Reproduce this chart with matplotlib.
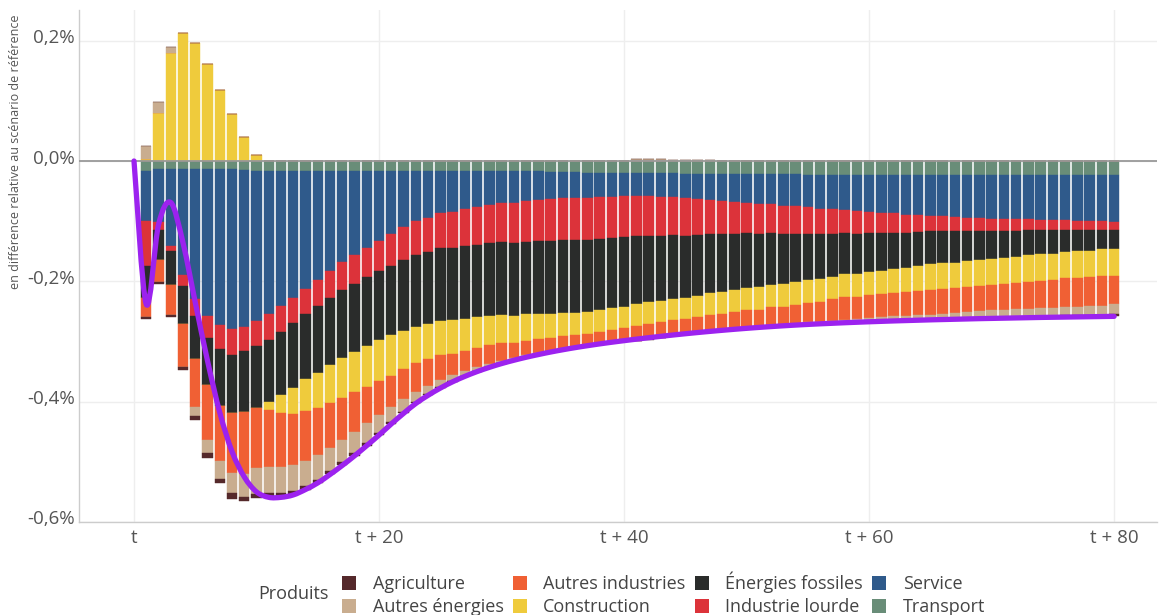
import matplotlib.pyplot as plt
import matplotlib.transforms as mtransforms
from matplotlib.patches import Patch, PathPatch
from matplotlib.path import Path
import numpy as np

plt.rcParams['font.family'] = ['Open Sans', 'DejaVu Sans']

# data (in % difference from the reference scenario), periods t+1 .. t+80
periods = np.arange(1, 81)

transport = [
    -0.017, -0.014, -0.014, -0.014, -0.014, -0.014, -0.014, -0.014, -0.015, -0.017,
    -0.017, -0.017, -0.017, -0.017, -0.017, -0.017, -0.017, -0.017, -0.017, -0.017,
    -0.017, -0.017, -0.017, -0.017, -0.017, -0.017, -0.017, -0.017, -0.016, -0.016,
    -0.017, -0.017, -0.017, -0.018, -0.018, -0.019, -0.020, -0.020, -0.020, -0.020,
    -0.020, -0.020, -0.020, -0.020, -0.021, -0.021, -0.021, -0.022, -0.022, -0.022,
    -0.022, -0.022, -0.022, -0.022, -0.023, -0.023, -0.023, -0.023, -0.023, -0.023,
    -0.023, -0.023, -0.023, -0.023, -0.023, -0.023, -0.023, -0.023, -0.023, -0.023,
    -0.023, -0.023, -0.023, -0.023, -0.023, -0.023, -0.023, -0.023, -0.023, -0.023]

service = [
    -0.083, -0.088, -0.128, -0.175, -0.216, -0.244, -0.258, -0.266, -0.261, -0.249,
    -0.238, -0.224, -0.211, -0.195, -0.180, -0.165, -0.151, -0.140, -0.128, -0.116,
    -0.105, -0.093, -0.083, -0.077, -0.070, -0.068, -0.063, -0.060, -0.057, -0.054,
    -0.052, -0.049, -0.047, -0.045, -0.043, -0.042, -0.041, -0.040, -0.039, -0.038,
    -0.038, -0.038, -0.039, -0.040, -0.041, -0.042, -0.043, -0.044, -0.046, -0.047,
    -0.049, -0.050, -0.052, -0.053, -0.054, -0.056, -0.057, -0.058, -0.060, -0.061,
    -0.063, -0.064, -0.066, -0.067, -0.068, -0.069, -0.070, -0.071, -0.072, -0.073,
    -0.074, -0.074, -0.074, -0.075, -0.075, -0.075, -0.076, -0.076, -0.077, -0.078]

industrie_lourde = [
    -0.075, -0.012, -0.007, -0.019, -0.028, -0.036, -0.040, -0.042, -0.040, -0.042,
    -0.043, -0.043, -0.042, -0.043, -0.044, -0.046, -0.046, -0.047, -0.048, -0.049,
    -0.052, -0.055, -0.057, -0.057, -0.058, -0.059, -0.061, -0.062, -0.063, -0.065,
    -0.067, -0.068, -0.069, -0.070, -0.071, -0.071, -0.071, -0.070, -0.069, -0.069,
    -0.067, -0.066, -0.065, -0.063, -0.062, -0.060, -0.058, -0.056, -0.053, -0.051,
    -0.050, -0.048, -0.047, -0.046, -0.044, -0.043, -0.041, -0.039, -0.038, -0.036,
    -0.034, -0.032, -0.030, -0.028, -0.026, -0.025, -0.024, -0.023, -0.022, -0.021,
    -0.020, -0.019, -0.018, -0.017, -0.017, -0.016, -0.015, -0.015, -0.014, -0.014]

energies_fossiles = [
    -0.053, -0.050, -0.057, -0.063, -0.071, -0.078, -0.095, -0.096, -0.101, -0.103,
    -0.103, -0.105, -0.107, -0.108, -0.111, -0.111, -0.113, -0.113, -0.114, -0.115,
    -0.116, -0.118, -0.119, -0.120, -0.121, -0.121, -0.121, -0.121, -0.121, -0.121,
    -0.121, -0.121, -0.121, -0.121, -0.120, -0.120, -0.119, -0.118, -0.116, -0.115,
    -0.113, -0.111, -0.108, -0.106, -0.103, -0.101, -0.098, -0.096, -0.093, -0.091,
    -0.089, -0.086, -0.083, -0.080, -0.077, -0.074, -0.071, -0.068, -0.066, -0.064,
    -0.062, -0.061, -0.059, -0.057, -0.055, -0.053, -0.052, -0.050, -0.048, -0.046,
    -0.044, -0.043, -0.042, -0.040, -0.039, -0.037, -0.036, -0.035, -0.033, -0.032]

construction = [
    0.004, 0.079, 0.179, 0.212, 0.196, 0.161, 0.118, 0.078, 0.040, 0.010,
    -0.013, -0.030, -0.043, -0.053, -0.058, -0.063, -0.067, -0.067, -0.068, -0.068,
    -0.067, -0.063, -0.060, -0.058, -0.057, -0.055, -0.053, -0.051, -0.049, -0.047,
    -0.046, -0.044, -0.042, -0.041, -0.039, -0.038, -0.037, -0.037, -0.037, -0.036,
    -0.036, -0.036, -0.036, -0.036, -0.036, -0.036, -0.036, -0.036, -0.037, -0.037,
    -0.037, -0.037, -0.038, -0.038, -0.038, -0.038, -0.038, -0.038, -0.039, -0.039,
    -0.039, -0.040, -0.040, -0.041, -0.042, -0.042, -0.042, -0.043, -0.043, -0.043,
    -0.043, -0.044, -0.044, -0.044, -0.044, -0.044, -0.044, -0.044, -0.044, -0.044]

autres_industries = [
    -0.032, -0.037, -0.050, -0.071, -0.080, -0.091, -0.091, -0.100, -0.103, -0.100,
    -0.095, -0.090, -0.086, -0.082, -0.078, -0.075, -0.070, -0.067, -0.061, -0.0565,
    -0.052, -0.0495, -0.048, -0.0445, -0.0405, -0.036, -0.034, -0.031, -0.031, -0.0297,
    -0.0252, -0.0242, -0.0237, -0.0220, -0.0222, -0.0197, -0.0185, -0.0185, -0.0197, -0.0201,
    -0.0246, -0.0252, -0.0259, -0.0247, -0.0246, -0.0256, -0.0277, -0.0271, -0.0284, -0.0298,
    -0.0293, -0.0309, -0.0306, -0.0314, -0.0323, -0.0333, -0.0354, -0.0375, -0.0367, -0.0379,
    -0.0388, -0.0381, -0.0395, -0.0399, -0.0413, -0.0418, -0.0413, -0.0408, -0.0413, -0.0416,
    -0.0432, -0.0438, -0.0454, -0.0460, -0.0457, -0.0474, -0.0481, -0.0478, -0.0495, -0.0472]

autres_energies = [
    0.021, 0.019, 0.011, 0.0, -0.014, -0.022, -0.030, -0.033, -0.038, -0.042,
    -0.042, -0.042, -0.042, -0.042, -0.042, -0.039, -0.037, -0.034, -0.032, -0.030,
    -0.025, -0.021, -0.017, -0.014, -0.012, -0.010, -0.008, -0.007, -0.005, -0.003,
    -0.002, -0.002, -0.001, 0.0, 0.0, 0.0, 0.0, 0.0, 0.0, 0.0,
    0.003, 0.003, 0.003, 0.001, 0.001, 0.001, 0.001, 0.0, 0.0, 0.0,
    0.0, -0.001, -0.001, -0.002, -0.003, -0.003, -0.004, -0.005, -0.005, -0.006,
    -0.006, -0.007, -0.007, -0.008, -0.008, -0.009, -0.010, -0.011, -0.012, -0.013,
    -0.013, -0.013, -0.013, -0.014, -0.014, -0.014, -0.014, -0.015, -0.015, -0.016]

agriculture = [
    -0.003, -0.003, -0.003, -0.006, -0.008, -0.008, -0.008, -0.010, -0.007, -0.007,
    -0.008, -0.008, -0.007, -0.006, -0.005, -0.005, -0.005, -0.005, -0.005, -0.004,
    -0.003, -0.003, -0.002, -0.002, -0.002, -0.001, -0.001, -0.001, -0.001, -0.001,
    -0.001, -0.001, -0.001, -0.0005, -0.0005, -0.0005, -0.0005, -0.0005, -0.0005, -0.0005,
    -0.0005, -0.0005, -0.0005, -0.0005, -0.0005, -0.0005, -0.0005, -0.0003, -0.0003, -0.0003,
    -0.0003, -0.0003, -0.0003, -0.0003, -0.0003, -0.0003, -0.0003, -0.0003, -0.0003, -0.0003,
    -0.0007, -0.0007, -0.0007, -0.0007, -0.0007, -0.0007, -0.0007, -0.0007, -0.0007, -0.001,
    -0.001, -0.001, -0.001, -0.001, -0.002, -0.003, -0.003, -0.003, -0.003, -0.004]

# stacking order, from the zero line outwards
series = [
    ('Transport', transport, '#698d78'),
    ('Service', service, '#2f5a8b'),
    ('Industrie lourde', industrie_lourde, '#dc333a'),
    ('Énergies fossiles', energies_fossiles, '#2a2c2b'),
    ('Construction', construction, '#efcb3c'),
    ('Autres industries', autres_industries, '#f06034'),
    ('Autres énergies', autres_energies, '#c9ad8f'),
    ('Agriculture', agriculture, '#55292b'),
]
legend_order = ['Agriculture', 'Autres énergies', 'Autres industries', 'Construction',
                'Énergies fossiles', 'Industrie lourde', 'Service', 'Transport']

W, H = 1159, 615
fig = plt.figure(figsize=(W / 100, H / 100), dpi=100)
ax = fig.add_axes([79 / W, 1 - 522 / H, (1157 - 79) / W, (522 - 10) / H])

pos_base = np.zeros(len(periods))
neg_base = np.zeros(len(periods))
colors = {}
for name, vals, col in series:
    colors[name] = col
    v = np.array(vals)
    pos = np.clip(v, 0, None)
    neg = np.clip(v, None, 0)
    ax.bar(periods, pos, bottom=pos_base, width=0.85, color=col,
           edgecolor=col, linewidth=0.3, zorder=2)
    ax.bar(periods, neg, bottom=neg_base, width=0.85, color=col,
           edgecolor=col, linewidth=0.3, zorder=2)
    pos_base += pos
    neg_base += neg

# total line, drawn as a smooth spline through the totals
xs = np.concatenate([[0], periods]).astype(float)
ys = np.concatenate([[0], pos_base + neg_base])
pts = np.column_stack([xs, ys])
verts = [pts[0]]
codes = [Path.MOVETO]
n = len(pts)
for i in range(n - 1):
    p0 = pts[i - 1] if i > 0 else pts[i]
    p1, p2 = pts[i], pts[i + 1]
    p3 = pts[i + 2] if i + 2 < n else pts[i + 1]
    verts += [p1 + (p2 - p0) / 6, p2 - (p3 - p1) / 6, p2]
    codes += [Path.CURVE4] * 3
ax.add_patch(PathPatch(Path(verts, codes), facecolor='none', edgecolor='#9c22ef',
                       linewidth=3.8, capstyle='round', joinstyle='round', zorder=5))

ax.axhline(0, color='#999999', linewidth=1.3, zorder=3)

ax.set_xlim(-4.49, 83.5)
ax.set_ylim(-0.600, 0.251)
ax.set_xticks([0, 20, 40, 60, 80])
ax.set_xticklabels(['t', 't + 20', 't + 40', 't + 60', 't + 80'])
ax.set_yticks([0.2, 0.0, -0.2, -0.4, -0.6])
ax.set_yticklabels(['0,2%', '0,0%', '-0,2%', '-0,4%', '-0,6%'])
ax.tick_params(length=0, labelsize=13.5, colors='#555555')
ax.tick_params(axis='x', pad=5)
ax.tick_params(axis='y', pad=3)
offset = mtransforms.ScaledTranslation(0, 0.045, fig.dpi_scale_trans)
for lbl in ax.get_yticklabels():
    lbl.set_transform(lbl.get_transform() + offset)

ax.grid(color='#eeeeee', linewidth=1)
ax.set_axisbelow(True)
for side in ['top', 'right']:
    ax.spines[side].set_visible(False)
for side in ['left', 'bottom']:
    ax.spines[side].set_color('#cccccc')
    ax.spines[side].set_linewidth(1)

fig.text(16 / W, 1 - 152 / H, 'en différence relative au scénario de référence',
         rotation=90, ha='center', va='center', fontsize=9, color='#555555')

handles = [Patch(facecolor=colors[nm], edgecolor='none') for nm in legend_order]
fig.legend(handles, legend_order, ncol=4, loc='center left',
           bbox_to_anchor=(342 / W, 1 - 594 / H), frameon=False, fontsize=13,
           handlelength=0.8, handleheight=0.8, handletextpad=0.9,
           columnspacing=0.5, labelspacing=0.25, borderpad=0, borderaxespad=0,
           labelcolor='#444444')
fig.text(258 / W, 1 - 594 / H, 'Produits', ha='left', va='center',
         fontsize=13, color='#444444')

fig.savefig('out.png', dpi=100)
